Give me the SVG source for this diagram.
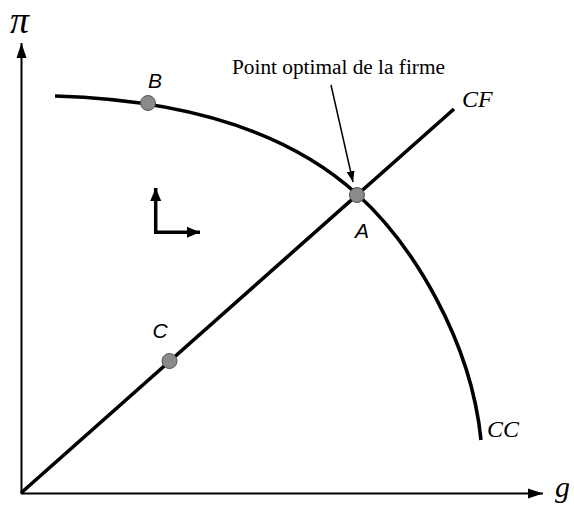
<svg xmlns="http://www.w3.org/2000/svg" width="574" height="506" viewBox="0 0 574 506">
<style>
.axis{stroke:#000;stroke-width:2;fill:none}
.thick{stroke:#000;stroke-width:3.6;fill:none}
.dot{fill:#8a8a8a;stroke:#555;stroke-width:1}
.ser{font-family:"Liberation Serif","Times New Roman",serif;font-style:italic;fill:#000}
.sans{font-family:"Liberation Sans",Arial,sans-serif;font-style:italic;fill:#000}
.note{font-family:"Liberation Serif","Times New Roman",serif;font-size:21.3px;fill:#000}
</style>
<defs>
<marker id="ah" markerUnits="userSpaceOnUse" markerWidth="16" markerHeight="12" viewBox="0 0 16 12" refX="15" refY="6" orient="auto">
<path d="M0,1 L15,6 L0,11 Z" fill="#000"/>
</marker>
<marker id="ahs" markerUnits="userSpaceOnUse" markerWidth="12" markerHeight="10" viewBox="0 0 12 10" refX="11" refY="5" orient="auto">
<path d="M0,1 L11,5 L0,9 Z" fill="#000"/>
</marker>
<marker id="ahl" markerUnits="userSpaceOnUse" markerWidth="14" markerHeight="12" viewBox="0 0 14 12" refX="13" refY="6" orient="auto">
<path d="M0,0.5 L13,6 L0,11.5 Z" fill="#000"/>
</marker>
</defs>
<g id="connectors">
<line id="axis-y" class="axis" x1="21.5" y1="494" x2="21.5" y2="43" marker-end="url(#ah)"/>
<line id="axis-x" class="axis" x1="21" y1="493.5" x2="543" y2="493.5" marker-end="url(#ah)"/>
<line id="cf-line" class="thick" x1="21" y1="493" x2="454" y2="109"/>
<path id="cc-curve" class="thick" d="M55,96 C175,99.6 283,127 357,194 C412.5,244.25 471,340 481,440"/>
<line id="pointer" stroke="#000" stroke-width="1.5" x1="331" y1="85" x2="353" y2="182" marker-end="url(#ahs)"/>
<line id="l-up" stroke="#000" stroke-width="3.5" x1="155.7" y1="234" x2="155.7" y2="188" marker-end="url(#ahl)"/>
<line id="l-right" stroke="#000" stroke-width="3.5" x1="154" y1="232.3" x2="200" y2="232.3" marker-end="url(#ahl)"/>
</g>
<g id="label-pi"><text class="ser" x="10" y="33" font-size="38">π</text></g>
<g id="label-g"><text class="ser" x="555" y="497" font-size="30">g</text></g>
<g id="label-cf"><text class="ser" x="462" y="107" font-size="24">CF</text></g>
<g id="label-cc"><text class="ser" x="487" y="437" font-size="24">CC</text></g>
<g id="note"><text class="note" x="232" y="74">Point optimal de la firme</text></g>
<g id="node-B"><circle class="dot" cx="148" cy="103" r="7.5"/><text class="sans" x="155" y="88" font-size="21" text-anchor="middle">B</text></g>
<g id="node-A"><circle class="dot" cx="357" cy="195" r="7.5"/><text class="sans" x="362" y="238" font-size="21" text-anchor="middle">A</text></g>
<g id="node-C"><circle class="dot" cx="169.5" cy="361" r="7.5"/><text class="sans" x="160" y="338" font-size="21" text-anchor="middle">C</text></g>
</svg>
